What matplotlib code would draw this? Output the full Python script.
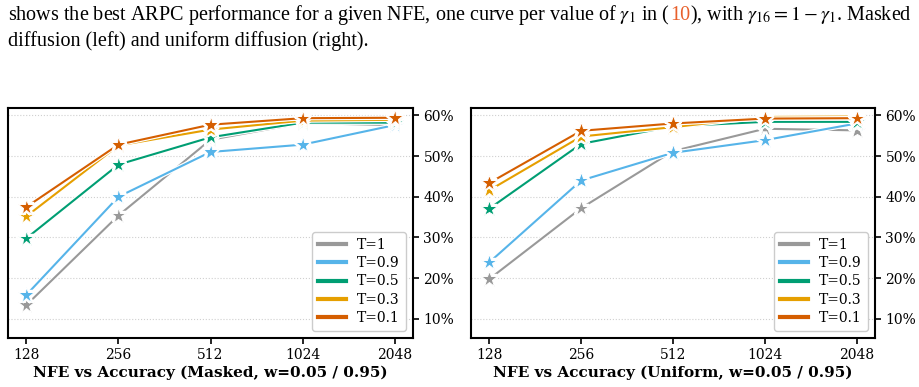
import numpy as np
import matplotlib
matplotlib.use("Agg")
import matplotlib.pyplot as plt
import matplotlib.patheffects as pe
from matplotlib.lines import Line2D
from matplotlib.ticker import PercentFormatter

# data
nfe = [128, 256, 512, 1024, 2048]
temps = ["T=1", "T=0.9", "T=0.5", "T=0.3", "T=0.1"]
colors = ["#999999", "#56B4E9", "#009E73", "#E69F00", "#D55E00"]

masked_t1 = [13.4, 35.4, 54.0, 58.1, 57.6]
masked_t09 = [15.9, 40.0, 51.0, 52.8, 57.6]
masked_t05 = [29.8, 47.9, 54.6, 58.2, 58.2]
masked_t03 = [35.2, 52.6, 56.5, 58.7, 58.9]
masked_t01 = [37.5, 52.8, 57.7, 59.3, 59.4]

uniform_t1 = [19.8, 37.2, 51.2, 56.7, 56.3]
uniform_t09 = [23.9, 44.0, 50.8, 53.9, 58.0]
uniform_t05 = [37.1, 53.0, 57.3, 58.4, 58.4]
uniform_t03 = [41.6, 54.8, 57.1, 59.6, 59.7]
uniform_t01 = [43.4, 56.2, 58.0, 59.2, 59.3]

masked = [masked_t1, masked_t09, masked_t05, masked_t03, masked_t01]
uniform = [uniform_t1, uniform_t09, uniform_t05, uniform_t03, uniform_t01]

plt.rcParams['font.family'] = 'DejaVu Serif'
plt.rcParams['mathtext.fontset'] = 'stix'

fig = plt.figure(figsize=(9.2, 3.87), dpi=100)

def panel(ax, series, title):
    for vals, c in zip(series, colors):
        ax.plot(nfe, vals, color=c, lw=1.5, marker='*', ms=12,
                mec='white', mew=0.7,
                path_effects=[pe.Stroke(linewidth=3.2, foreground='white'), pe.Normal()])
    ax.set_xscale('log', base=2)
    ax.set_xticks(nfe)
    ax.set_xticklabels([str(n) for n in nfe])
    ax.minorticks_off()
    ax.set_ylim(5.3, 61.8)
    ax.set_yticks([10, 20, 30, 40, 50, 60])
    ax.yaxis.set_major_formatter(PercentFormatter(decimals=0))
    ax.yaxis.tick_right()
    ax.tick_params(labelsize=10, length=4, width=1.2)
    ax.grid(axis='y', ls=':', color='#d0d0d0', lw=0.8)
    for s in ax.spines.values():
        s.set_linewidth(1.5)
    ax.set_xlabel(title, fontsize=11, fontweight='bold', labelpad=2)
    handles = [Line2D([], [], color=c, lw=3) for c in colors]
    ax.legend(handles, temps, loc='lower right', fontsize=10, handlelength=2.0,
              borderpad=0.45, labelspacing=0.3, framealpha=1, edgecolor='#cccccc')

ax1 = fig.add_axes([8/920, 49/387, 405/920, 230/387])
ax2 = fig.add_axes([471/920, 49/387, 404/920, 230/387])
panel(ax1, masked, "NFE vs Accuracy (Masked, w=0.05 / 0.95)")
panel(ax2, uniform, "NFE vs Accuracy (Uniform, w=0.05 / 0.95)")

# caption text from the paper above the figure
cap = dict(family='Liberation Serif', fontsize=14.5, va='baseline')
fig.canvas.draw()
r = fig.canvas.get_renderer()
parts = [(r"shows the best ARPC performance for a given NFE, one curve per value of $\gamma_1$ in (", 'black'),
         ("10", '#E8602C'),
         (r"), with $\gamma_{16} = 1 - \gamma_1$. Masked", 'black')]
x = 8 / 920
for txt, c in parts:
    t = fig.text(x, 1 - 20/387, txt, color=c, **cap)
    bb = t.get_window_extent(renderer=r)
    x = (bb.x1) / 920
fig.text(8/920, 1 - 46/387, "diffusion (left) and uniform diffusion (right).", **cap)

fig.savefig("out.png", dpi=100)
